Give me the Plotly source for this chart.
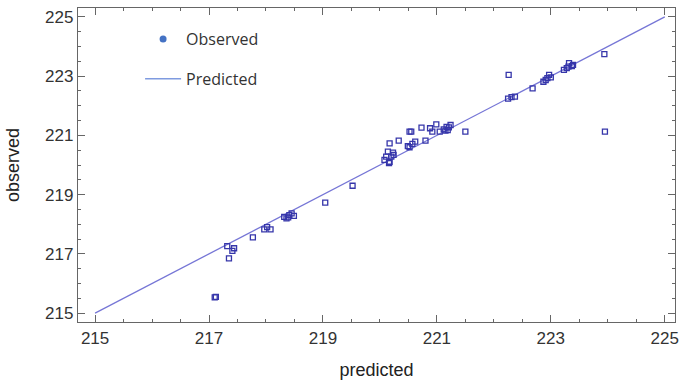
import plotly.graph_objects as go

# Observed vs predicted values
predicted = [217.10, 217.12, 217.35, 217.32, 217.44, 217.41, 217.77, 217.97, 218.08, 218.02,
             218.32, 218.36, 218.41, 218.45, 218.49, 218.39, 219.04, 219.52,
             220.17, 220.33, 220.14, 220.23, 220.08, 220.16, 220.20, 220.24, 220.11, 220.17,
             220.52, 220.55, 220.49, 220.57, 220.62, 220.52, 220.73, 220.80, 220.88, 220.92,
             220.99, 221.05, 221.12, 221.17, 221.19, 221.24, 221.15, 221.21, 221.50,
             222.26, 222.25, 222.31, 222.37, 222.68, 222.87, 222.91, 222.97, 222.94, 223.00,
             223.23, 223.28, 223.32, 223.37, 223.31, 223.39, 223.94, 223.95]
observed = [215.53, 215.55, 216.85, 217.26, 217.19, 217.10, 217.56, 217.83, 217.83, 217.90,
            218.25, 218.20, 218.31, 218.37, 218.28, 218.23, 218.73, 219.30,
            220.73, 220.82, 220.45, 220.42, 220.17, 220.06, 220.28, 220.34, 220.28, 220.11,
            221.13, 221.13, 220.64, 220.71, 220.79, 220.60, 221.26, 220.82, 221.24, 221.13,
            221.37, 221.13, 221.20, 221.29, 221.18, 221.35, 221.16, 221.27, 221.13,
            223.04, 222.24, 222.29, 222.31, 222.59, 222.81, 222.87, 223.04, 222.93, 222.96,
            223.21, 223.27, 223.44, 223.34, 223.32, 223.38, 223.74, 221.13]
line_x = [215, 225]
line_y = [215, 225]
tick_vals = [215, 217, 219, 221, 223, 225]

fig = go.Figure()
fig.add_trace(go.Scatter(x=line_x, y=line_y, mode="lines", showlegend=False,
                         line=dict(color="#7676d6", width=1.3)))
fig.add_trace(go.Scatter(x=predicted, y=observed, mode="markers", showlegend=False,
                         marker=dict(symbol="square-open", size=5, color="#3636aa",
                                     line=dict(width=1.3, color="#3636aa"))))
# legend entries
fig.add_trace(go.Scatter(x=[None], y=[None], mode="markers", name="Observed",
                         legendgroup="a",
                         marker=dict(symbol="circle", size=7, color="#4472c4")))
fig.add_trace(go.Scatter(x=[None], y=[None], mode="lines", name="Predicted",
                         legendgroup="b",
                         line=dict(color="#7f9be0", width=1.5)))

axis_common = dict(
    showline=True, linecolor="#666", linewidth=1.3, mirror="ticks",
    ticks="inside", ticklen=7, tickwidth=1.2, tickcolor="#666",
    showgrid=False, zeroline=False, automargin=False,
    tickvals=tick_vals, ticklabeloverflow="allow",
    tickfont=dict(family="Liberation Sans, Arial", size=17, color="#333"),
    minor=dict(dtick=0.5, ticks="inside", ticklen=3, tickwidth=1, tickcolor="#666", showgrid=False),
)

fig.update_layout(
    width=679, height=385,
    margin=dict(l=78, r=4, t=8, b=63),
    paper_bgcolor="white", plot_bgcolor="white",
    xaxis=dict(range=[214.7, 225.18],
               title=dict(text="predicted", standoff=16,
                          font=dict(family="Liberation Sans, Arial", size=18, color="#222")),
               **axis_common),
    yaxis=dict(range=[214.7, 225.3],
               title=dict(text="observed", standoff=20,
                          font=dict(family="Liberation Sans, Arial", size=18, color="#222")),
               **axis_common),
    legend=dict(x=0.104, y=0.955, xanchor="left", yanchor="top",
                traceorder="grouped", tracegroupgap=16, itemwidth=36,
                bgcolor="rgba(0,0,0,0)",
                font=dict(family="Open Sans", size=16, color="#333")),
    showlegend=True,
)

# remove the browser's default 8px page margin so the figure fills the window
fig.write_html("out.html", config={"displayModeBar": False},
               post_script="document.body.style.margin='0px';")
